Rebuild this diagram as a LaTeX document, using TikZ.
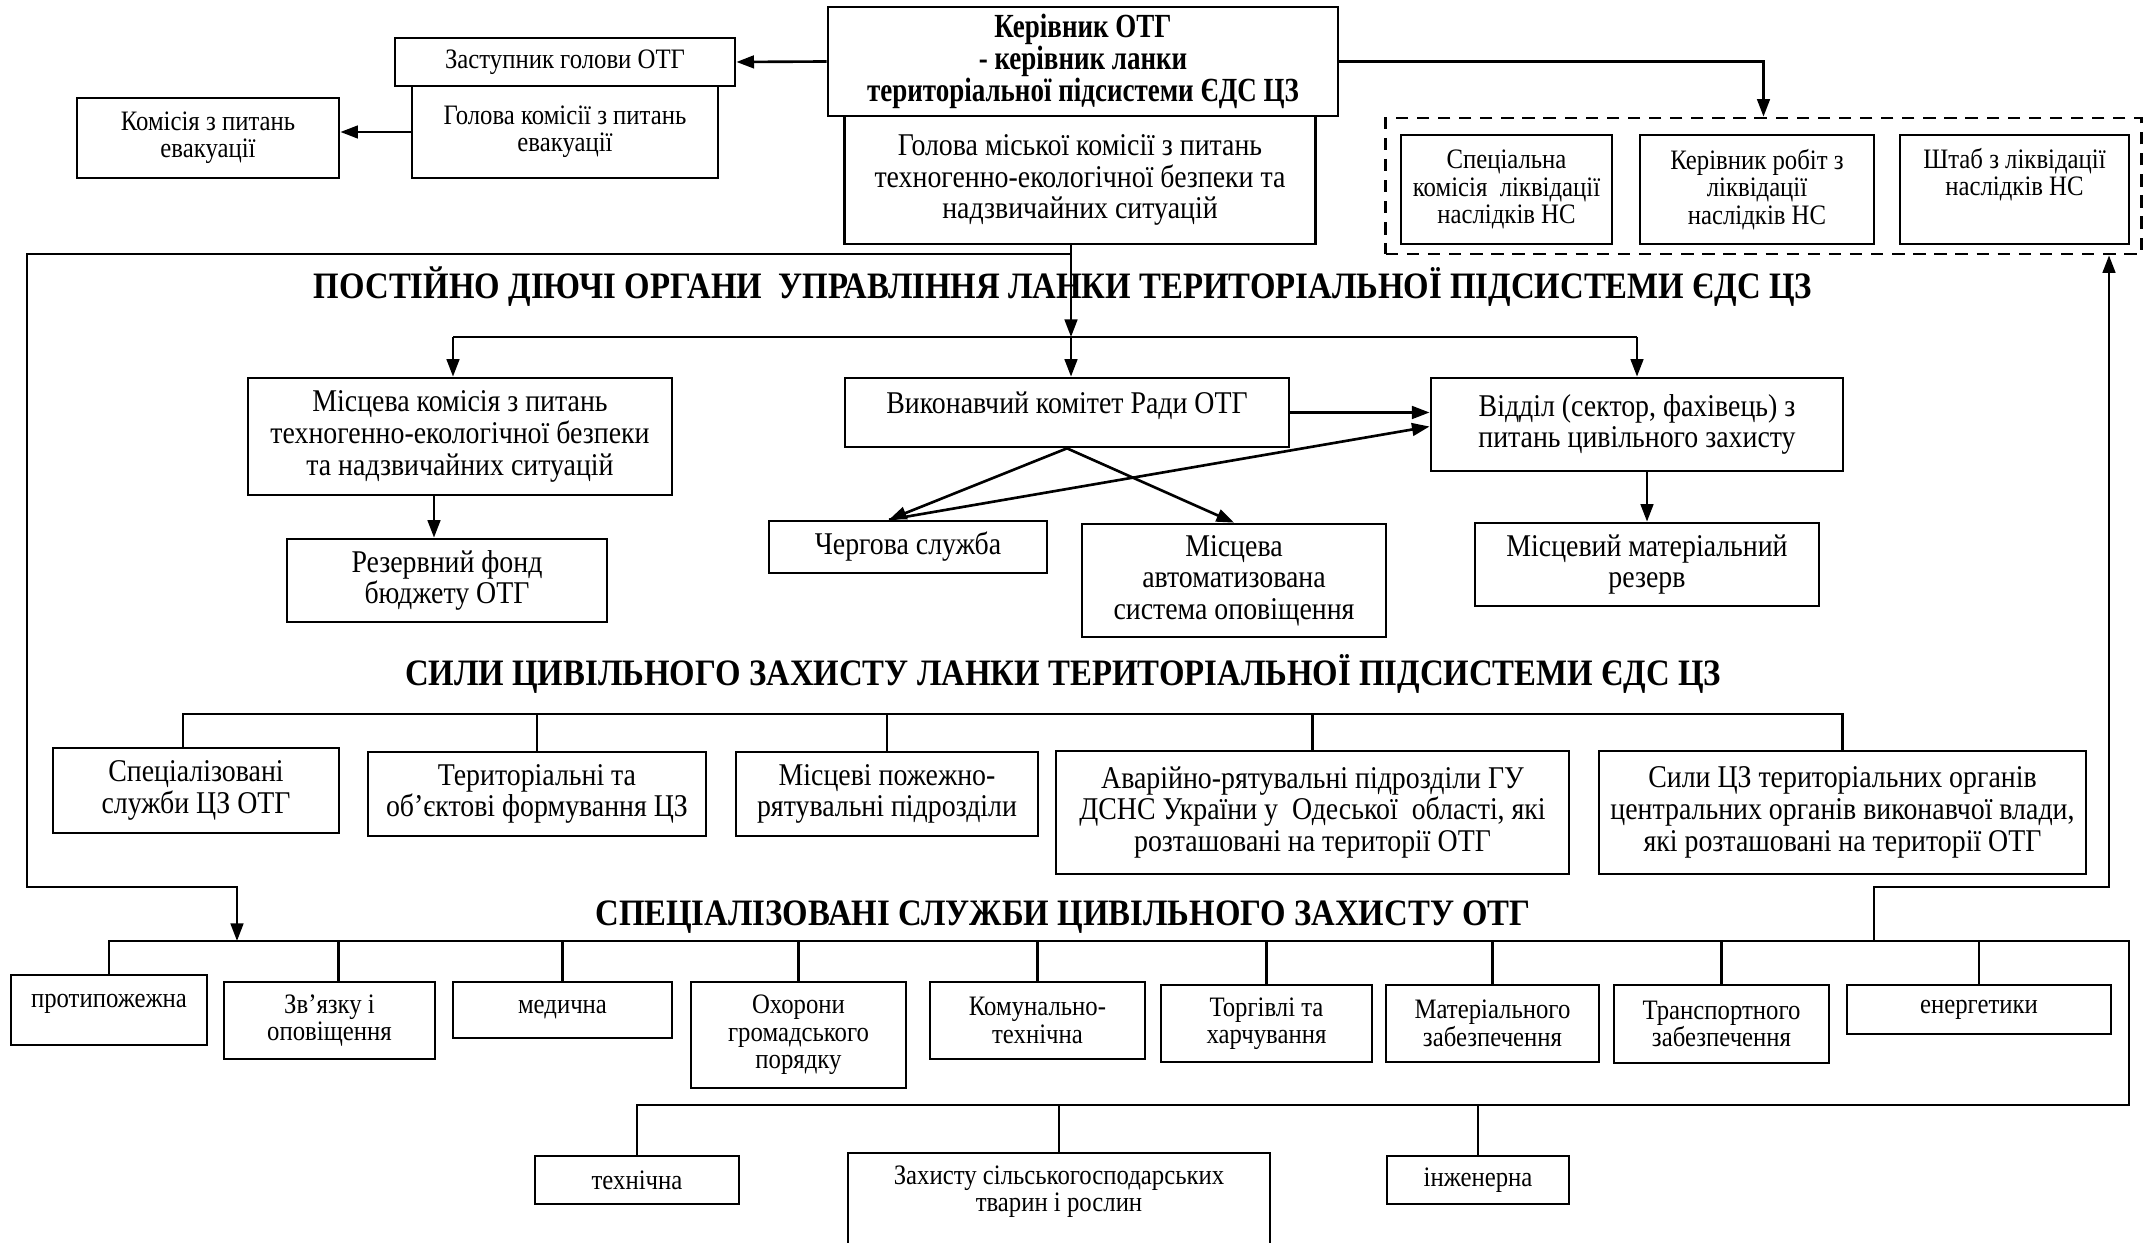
\documentclass[tikz,border=0pt]{standalone}
\usepackage{fontspec}
\setmainfont[FakeStretch=0.88]{Liberation Serif}
\newfontfamily\condfont[FakeStretch=0.80]{Liberation Serif}
\usetikzlibrary{arrows.meta}
\newcommand\fbody{\fontsize{9}{9}\selectfont}
\newcommand\fsmall{\fontsize{8}{7.8}\selectfont}
\newcommand\fhead{\condfont\fontsize{9.6}{9.1}\selectfont\bfseries}
\newcommand\ftitle{\fontsize{10.6}{11}\selectfont\bfseries}
\begin{document}
\begin{tikzpicture}[x=0.01cm,y=-0.01cm,
  bx/.style={draw, line width=0.75pt, align=center, inner sep=1pt, font=\fbody},
  sbx/.style={bx, font=\fsmall},
  ln/.style={line width=0.75pt},
  arr/.style={line width=0.75pt, -{Triangle[length=5pt,width=3.6pt]}},
  ttl/.style={font=\ftitle, inner sep=0pt}]
\useasboundingbox (0,0) rectangle (2145,1243);
\fill[white] (0,0) rectangle (2145,1243);

% top
\node[bx, font=\fhead, minimum width=5.10cm, minimum height=1.09cm] (ker) at (1083,61.5)
  {Керівник ОТГ\\- керівник ланки\\територіальної підсистеми ЄДС ЦЗ};
\node[bx, minimum width=4.71cm, minimum height=1.28cm] (hol) at (1080,180)
  {Голова міської комісії з питань\\техногенно-екологічної безпеки та\\надзвичайних ситуацій};
\node[sbx, minimum width=3.40cm, minimum height=0.48cm] (zast) at (565,62) {Заступник голови ОТГ};
\node[sbx, minimum width=3.06cm, minimum height=0.92cm] (holev) at (565,132) {Голова комісії з питань\\евакуації};
\node[sbx, minimum width=2.62cm, minimum height=0.80cm] (komev) at (208,138) {Комісія з питань\\евакуації};

\node[draw, dashed, line width=0.75pt, dash pattern=on 3.5pt off 2.5pt, minimum width=7.55cm, minimum height=1.36cm, inner sep=0pt] (dash) at (1763.5,186) {};
\node[sbx, minimum width=2.11cm, minimum height=1.09cm] (spec) at (1506.5,189.5) {Спеціальна\\комісія\ \ ліквідації\\наслідків НС};
\node[sbx, minimum width=2.34cm, minimum height=1.09cm] (krob) at (1757,189.5) {Керівник робіт з\\ліквідації\\наслідків НС};
\node[sbx, minimum width=2.29cm, minimum height=1.09cm] (shtab) at (2014.5,189.5) {Штаб з ліквідації\\наслідків НС\\\strut};

\node[ttl] (t1) at (1063,287) {ПОСТІЙНО ДІЮЧІ ОРГАНИ\ \ УПРАВЛІННЯ ЛАНКИ ТЕРИТОРІАЛЬНОЇ ПІДСИСТЕМИ ЄДС ЦЗ};

% second level
\node[bx, minimum width=4.24cm, minimum height=1.17cm] (mkom) at (460,436.5) {Місцева комісія з питань\\техногенно-екологічної безпеки\\та надзвичайних ситуацій};
\node[bx, minimum width=4.44cm, minimum height=0.69cm] (vyk) at (1067,412.5) {Виконавчий комітет Ради ОТГ\\[-6pt]\strut};
\node[bx, minimum width=4.12cm, minimum height=0.93cm] (vid) at (1637,424.5) {Відділ (сектор, фахівець) з\\питань цивільного захисту};
\node[bx, minimum width=3.20cm, minimum height=0.83cm] (rez) at (447,580.5) {Резервний фонд\\бюджету ОТГ};
\node[bx, minimum width=2.78cm, minimum height=0.52cm] (cher) at (908,547) {Чергова служба};
\node[bx, minimum width=3.04cm, minimum height=1.13cm] (avt) at (1234,580.5) {Місцева\\автоматизована\\система оповіщення};
\node[bx, minimum width=3.44cm, minimum height=0.83cm] (mat) at (1647,564.5) {Місцевий матеріальний\\резерв};

\node[ttl] (t2) at (1063,674) {СИЛИ ЦИВІЛЬНОГО ЗАХИСТУ ЛАНКИ ТЕРИТОРІАЛЬНОЇ ПІДСИСТЕМИ ЄДС ЦЗ};

\node[bx, minimum width=2.86cm, minimum height=0.85cm] (ra) at (196,790.5) {Спеціалізовані\\служби ЦЗ ОТГ};
\node[bx, minimum width=3.38cm, minimum height=0.84cm] (rb) at (537,794) {Територіальні та\\об’єктові формування ЦЗ};
\node[bx, minimum width=3.02cm, minimum height=0.84cm] (rc) at (887,794) {Місцеві пожежно-\\рятувальні підрозділи};
\node[bx, minimum width=5.13cm, minimum height=1.23cm] (rd) at (1312.5,812.5) {Аварійно-рятувальні підрозділи ГУ\\ДСНС України у\ \ Одеської\ \ області, які\\розташовані на території ОТГ};
\node[bx, minimum width=4.87cm, minimum height=1.23cm] (re) at (1842.5,812.5) {Сили ЦЗ територіальних органів\\центральних органів виконавчої влади,\\які розташовані на території ОТГ};

\node[ttl] (t3) at (1063,917) {СПЕЦІАЛІЗОВАНІ СЛУЖБИ ЦИВІЛЬНОГО ЗАХИСТУ ОТГ};

\node[sbx, minimum width=1.96cm, minimum height=0.70cm] (s1) at (109,1010) {протипожежна\\[-5pt]\strut};
\node[sbx, minimum width=2.11cm, minimum height=0.77cm] (s2) at (329.5,1020.5) {Зв’язку і\\оповіщення};
\node[sbx, minimum width=2.19cm, minimum height=0.56cm] (s3) at (562.5,1010) {медична};
\node[sbx, minimum width=2.15cm, minimum height=1.06cm] (s4) at (798.5,1035) {Охорони\\громадського\\порядку};
\node[sbx, minimum width=2.15cm, minimum height=0.77cm] (s5) at (1037.5,1020.5) {Комунально-\\технічна};
\node[sbx, minimum width=2.11cm, minimum height=0.77cm] (s6) at (1266.5,1023.5) {Торгівлі та\\харчування};
\node[sbx, minimum width=2.13cm, minimum height=0.77cm] (s7) at (1492.5,1023.5) {Матеріального\\забезпечення};
\node[sbx, minimum width=2.15cm, minimum height=0.78cm] (s8) at (1721.5,1024) {Транспортного\\забезпечення};
\node[sbx, minimum width=2.64cm, minimum height=0.49cm] (s9) at (1979,1009.5) {енергетики};

\node[sbx, minimum width=2.04cm, minimum height=0.48cm] (u1) at (637,1180) {технічна};
\node[sbx, minimum width=4.22cm, minimum height=1.07cm] (u2) at (1059,1206.5) {Захисту сільськогосподарських\\тварин і рослин\\\strut};
\node[sbx, minimum width=1.82cm, minimum height=0.48cm] (u3) at (1478,1180) {інженерна};

% coordinates
\coordinate (j1) at (1071,337);
\coordinate (j0) at (1071,254);
\coordinate (L1) at (27,254);
\coordinate (L2) at (27,887);
\coordinate (b3a) at (237,941);
\coordinate (b2) at (0,714);
\coordinate (b3) at (0,941);
\coordinate (b3r) at (2129,941);
\coordinate (b4r) at (2129,1105);
\coordinate (R1) at (1874,941);
\coordinate (R2) at (1874,887);
\coordinate (R3) at (2109,887);

% top connectors
\draw[arr] (ker.west) -- (zast.east);
\draw[arr] (holev.west) -- (holev.west -| komev.east);
\draw[arr] (ker.east) -| (dash.north);
\draw[arr] (hol.south -| j1) -- (j1);
\draw[arr] (j0) -- (L1) -- (L2) -| (b3a);

% bus 1
\draw[ln] ([xshift=-0.07cm]mkom.north |- j1) -- (vid.north |- j1);
\draw[arr] ([xshift=-0.07cm]mkom.north |- j1) -- ([xshift=-0.07cm]mkom.north);
\draw[arr] (j1) -- (j1 |- vyk.north);
\draw[arr] (vid.north |- j1) -- (vid.north);
\draw[arr] ([xshift=-0.13cm]rez.north |- mkom.south) -- ([xshift=-0.13cm]rez.north);
\draw[arr] (vyk.east) -- (vyk.east -| vid.west);
\draw[arr] (vyk.south) -- ([xshift=-0.19cm]cher.north);
\draw[arr] (vyk.south) -- (avt.north);
\draw[arr] ([xshift=-0.19cm]cher.north) -- ([yshift=-0.02cm]vid.west);
\draw[arr] (vid.south -| mat.north) -- (mat.north);

% bus 2
\draw[ln] ([xshift=-0.13cm]ra.north) -- ([xshift=-0.13cm]ra.north |- b2) -- (re.north |- b2) -- (re.north);
\foreach \n in {rb,rc,rd} \draw[ln] (\n.north) -- (\n.north |- b2);

% bus 3 & 4
\draw[ln] (s1.north) -- (s1.north |- b3) -- (b3r) -- (b4r) -- (b4r -| u1.north) -- (u1.north);
\draw[ln] ([xshift=0.09cm]s2.north) -- ([xshift=0.09cm]s2.north |- b3);
\foreach \n in {s3,s4,s5,s6,s7,s8,s9} \draw[ln] (\n.north) -- (\n.north |- b3);
\foreach \n in {u2,u3} \draw[ln] (\n.north) -- (\n.north |- b4r);
\draw[arr] (R1) -- (R2) -- (R3) -- (R3 |- dash.south);
\end{tikzpicture}
\end{document}
